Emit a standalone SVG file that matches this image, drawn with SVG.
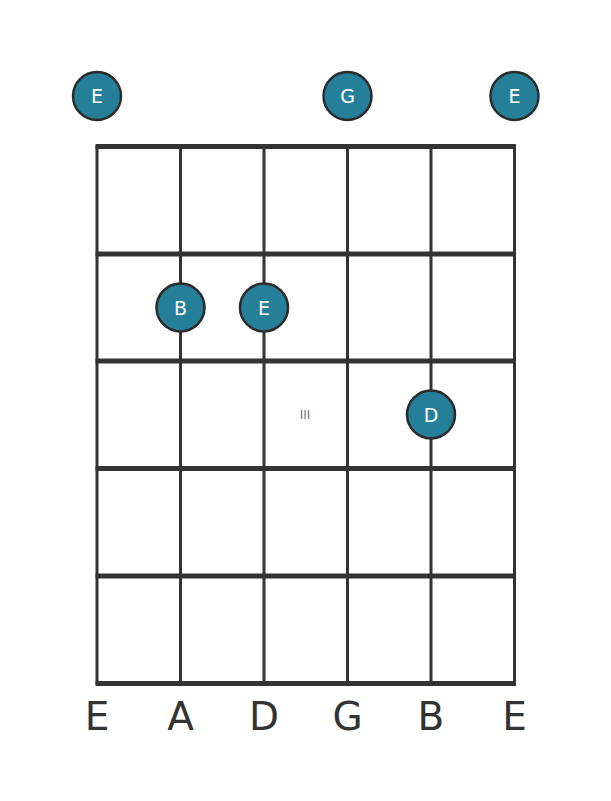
<svg xmlns="http://www.w3.org/2000/svg" width="611" height="801" viewBox="0 0 611 801">
<style>
.fret{stroke:#333;stroke-width:5;fill:none}
.str{stroke:#333;stroke-width:3;fill:none}
.dot{fill:#267f99;stroke:#2b2b2b;stroke-width:2.5}
.dt{font-family:"DejaVu Sans",sans-serif;font-size:19px;fill:#fff;text-anchor:middle;dominant-baseline:central}
.lab{font-family:"DejaVu Sans",sans-serif;font-size:39px;fill:#333;text-anchor:middle}
.fn{font-family:"DejaVu Sans",sans-serif;font-size:12px;fill:#777;text-anchor:middle;dominant-baseline:central}
</style>
<rect width="611" height="801" fill="#fff"/>
<g id="connectors">
<line class="str" x1="97" y1="146" x2="97" y2="684"/>
<line class="str" x1="180.5" y1="146" x2="180.5" y2="684"/>
<line class="str" x1="264" y1="146" x2="264" y2="684"/>
<line class="str" x1="347.5" y1="146" x2="347.5" y2="684"/>
<line class="str" x1="431" y1="146" x2="431" y2="684"/>
<line class="str" x1="514.5" y1="146" x2="514.5" y2="684"/>
<line class="fret" x1="95.5" y1="146.5" x2="516" y2="146.5"/>
<line class="fret" x1="95.5" y1="254" x2="516" y2="254"/>
<line class="fret" x1="95.5" y1="361" x2="516" y2="361"/>
<line class="fret" x1="95.5" y1="468.5" x2="516" y2="468.5"/>
<line class="fret" x1="95.5" y1="576" x2="516" y2="576"/>
<line class="fret" x1="95.5" y1="683.5" x2="516" y2="683.5"/>
</g>
<g id="fret-number"><text class="fn" x="305" y="415">III</text></g>
<g id="open-E-low"><circle class="dot" cx="97" cy="96" r="24"/><text class="dt" x="97" y="96">E</text></g>
<g id="open-G"><circle class="dot" cx="347.5" cy="96" r="24"/><text class="dt" x="347.5" y="96">G</text></g>
<g id="open-E-high"><circle class="dot" cx="514.5" cy="96" r="24"/><text class="dt" x="514.5" y="96">E</text></g>
<g id="note-B"><circle class="dot" cx="180.5" cy="307.5" r="24"/><text class="dt" x="180.5" y="307.5">B</text></g>
<g id="note-E"><circle class="dot" cx="264" cy="307.5" r="24"/><text class="dt" x="264" y="307.5">E</text></g>
<g id="note-D"><circle class="dot" cx="431" cy="414.5" r="24"/><text class="dt" x="431" y="414.5">D</text></g>
<g id="string-labels">
<text class="lab" x="97" y="730">E</text>
<text class="lab" x="180.5" y="730">A</text>
<text class="lab" x="264" y="730">D</text>
<text class="lab" x="347.5" y="730">G</text>
<text class="lab" x="431" y="730">B</text>
<text class="lab" x="514.5" y="730">E</text>
</g>
</svg>
